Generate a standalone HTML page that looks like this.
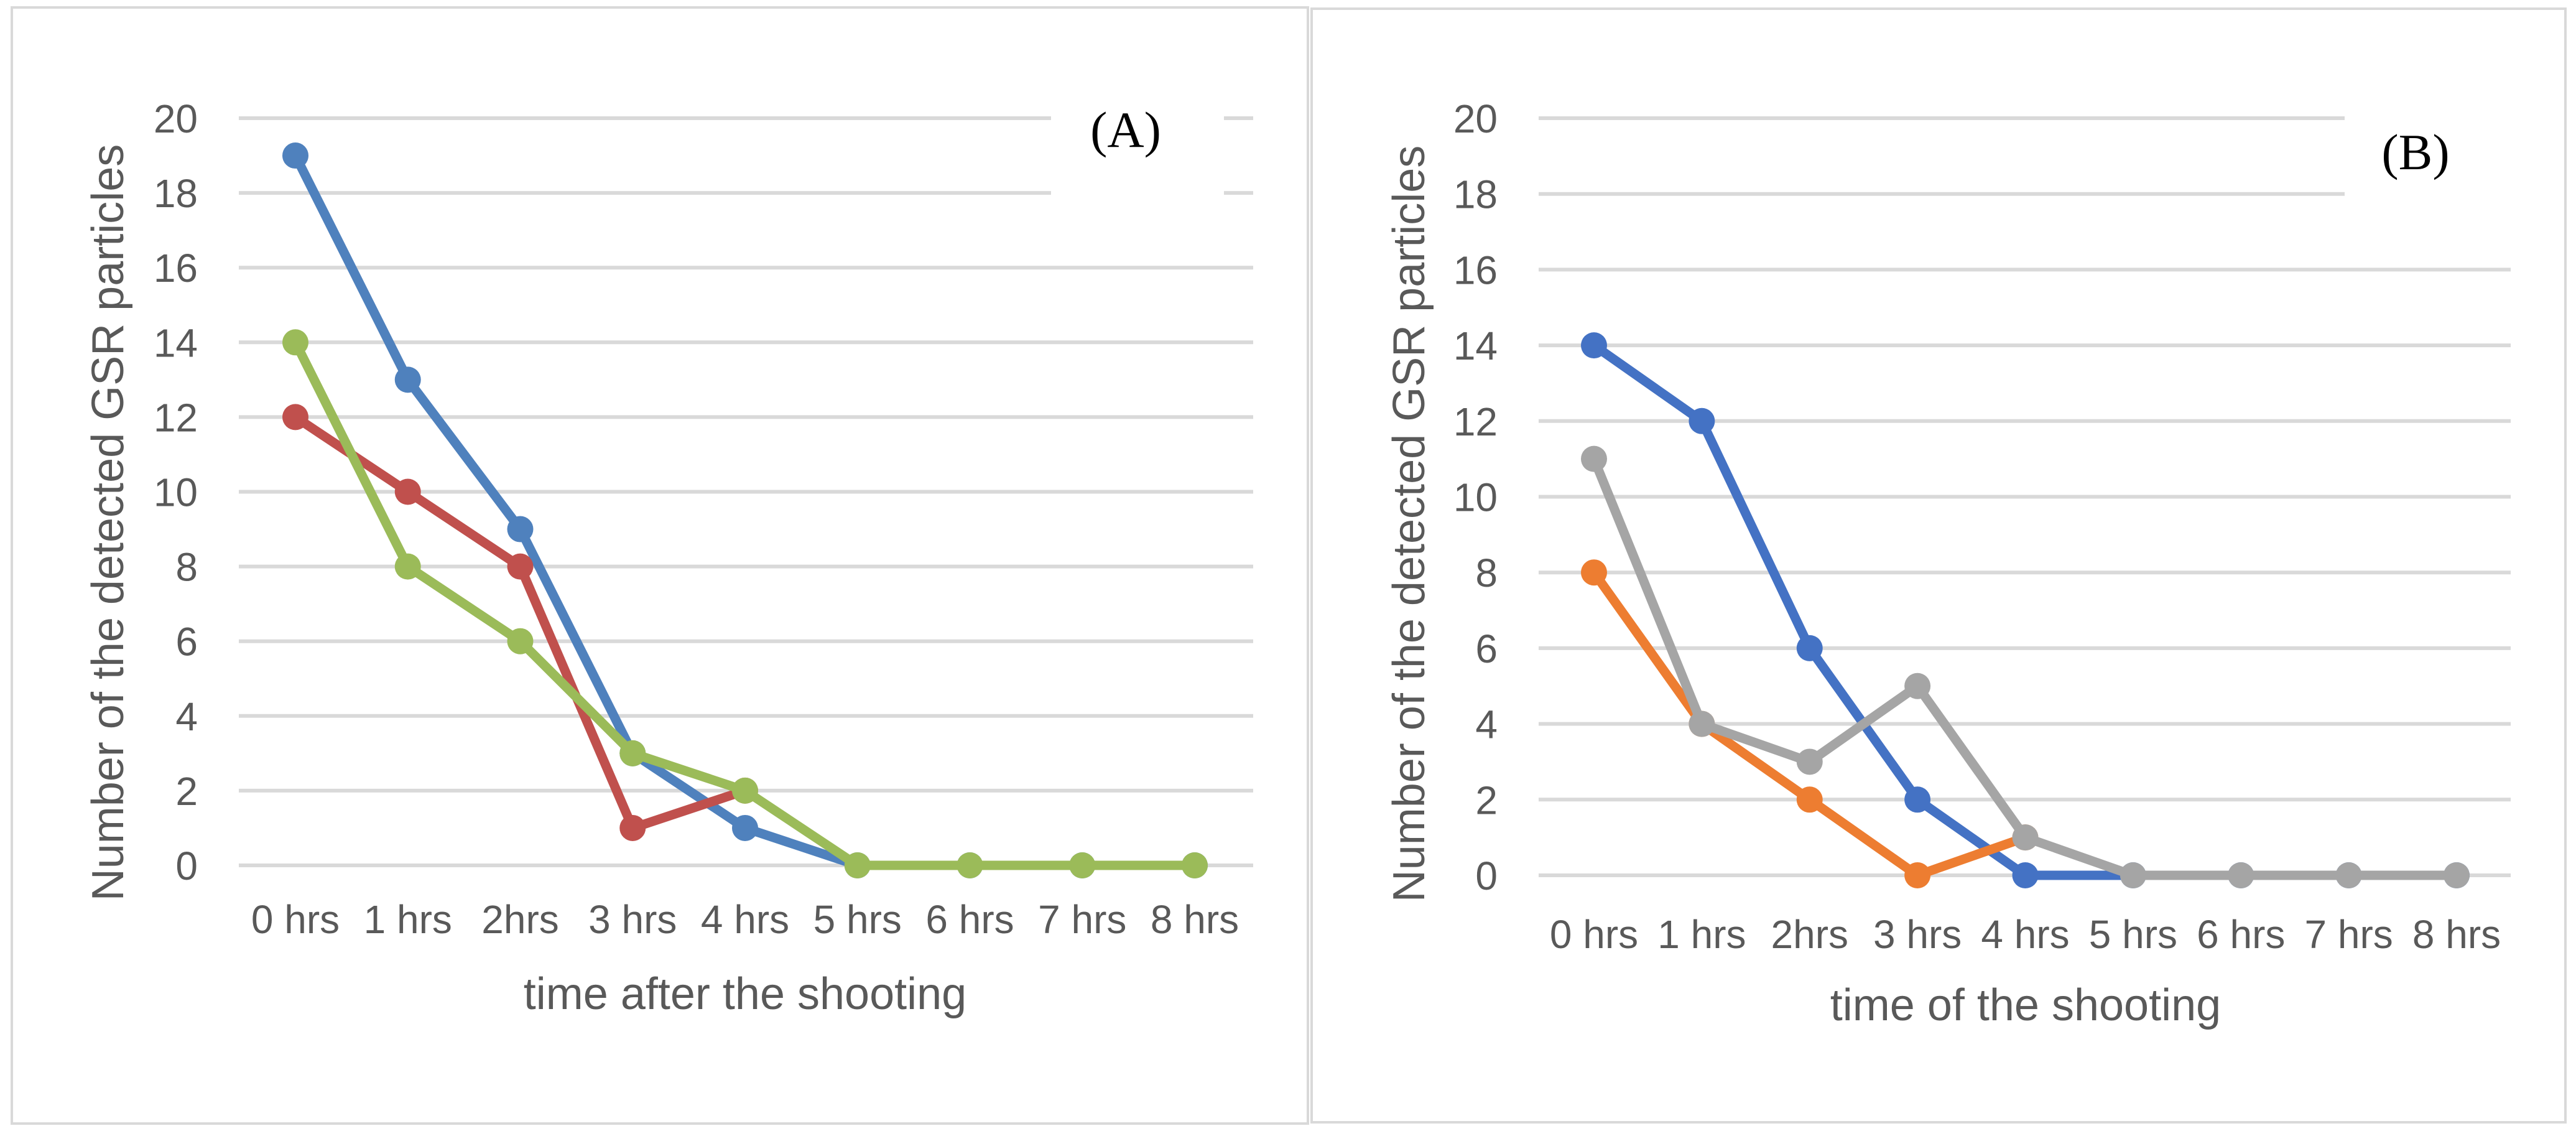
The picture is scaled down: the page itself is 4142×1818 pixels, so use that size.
<!DOCTYPE html>
<html><head><meta charset="utf-8">
<style>
html,body{margin:0;padding:0;background:#fff;}
svg{display:block;}
text{font-family:"Liberation Sans",sans-serif;fill:#595959;}
</style></head>
<body>
<svg id="fig" width="4142" height="1818" viewBox="0 0 4142 1818" xmlns="http://www.w3.org/2000/svg">
  <rect x="0" y="0" width="4142" height="1818" fill="#fff"/>
  <rect x="19" y="12" width="2084" height="1794" fill="none" stroke="#d9d9d9" stroke-width="4"/>
  <rect x="2109" y="14" width="2016" height="1790" fill="none" stroke="#d9d9d9" stroke-width="4"/>
  <g id="pa"></g>
  <g id="pb"></g>
</svg>
<script>
const categories = ["0 hrs","1 hrs","2hrs","3 hrs","4 hrs","5 hrs","6 hrs","7 hrs","8 hrs"];
const yTicks = [0,2,4,6,8,10,12,14,16,18,20];
const aBlue = [19,13,9,3,1,0,0,0,0];
const aRed = [12,10,8,1,2];
const aGreen = [14,8,6,3,2,0,0,0,0];
const bBlue = [14,12,6,2,0,0,0,0,0];
const bOrange = [8,4,2,0,1];
const bGray = [11,4,3,5,1,0,0,0,0];

const NS = "http://www.w3.org/2000/svg";
function mk(tag, attrs, parent){
  const e = document.createElementNS(NS, tag);
  for (const k in attrs) e.setAttribute(k, attrs[k]);
  parent.appendChild(e);
  return e;
}

function drawPanel(g, cfg, seriesList){
  const yScale = v => cfg.y0 + (cfg.y20 - cfg.y0) * v / 20;
  const xScale = i => cfg.x0 + (cfg.x8 - cfg.x0) * i / 8;
  // gridlines
  yTicks.forEach(t => {
    const y = yScale(t);
    if (t >= 18) {
      const l1 = mk('line', {x1:cfg.gx0, x2:cfg.gapStart, y1:y, y2:y, stroke:'#d9d9d9', 'stroke-width':6}, g);
      
      
      if (cfg.gapEnd) {
        const l2 = mk('line', {x1:cfg.gapEnd, x2:cfg.gx1, y1:y, y2:y, stroke:'#d9d9d9', 'stroke-width':6}, g);
        
        
      }
    } else {
      const l = mk('line', {x1:cfg.gx0, x2:cfg.gx1, y1:y, y2:y, stroke:'#d9d9d9', 'stroke-width':6}, g);
      
      
    }
    const tx = mk('text', {x:cfg.tickX, y:y + 23, 'text-anchor':'end', 'font-size':64}, g);
    tx.textContent = t;
    
    
  });
  categories.forEach((c, i) => {
    const tx = mk('text', {x:xScale(i), y:cfg.xLabY, 'text-anchor':'middle', 'font-size':64}, g);
    tx.textContent = c;
    
    
  });
  seriesList.forEach(s => {
    const sg = mk('g', {}, g);
    
    
    const pts = s.data.map((v, i) => xScale(i) + ',' + yScale(v)).join(' ');
    const pl = mk('polyline', {points:pts, fill:'none', stroke:s.color, 'stroke-width':15, 'stroke-linejoin':'round', 'stroke-linecap':'round'}, sg);
    
    
    s.data.forEach((v, i) => {
      const c = mk('circle', {cx:xScale(i), cy:yScale(v), r:21, fill:s.color}, sg);
      
      
    });
  });
  const lab = mk('text', {x:cfg.labX, y:cfg.labY, 'text-anchor':'middle', 'font-size':82, style:'font-family:"Liberation Serif",serif;fill:#000'}, g);
  lab.textContent = cfg.label;
  
  
  const xt = mk('text', {x:cfg.xTitleX, y:cfg.xTitleY, 'text-anchor':'middle', 'font-size':72}, g);
  xt.textContent = cfg.xTitle;
  
  
  const yt = mk('text', {x:0, y:0, 'text-anchor':'middle', 'font-size':72, transform:'translate(' + cfg.yTitleX + ',' + cfg.yTitleY + ') rotate(-90)'}, g);
  yt.textContent = 'Number of the detected GSR particles';
  
  
}

drawPanel(document.getElementById('pa'), {
  y0:1391, y20:190, x0:475, x8:1921, gx0:384, gx1:2015, gapStart:1690, gapEnd:1968,
  tickX:318, xLabY:1500, label:'(A)', labX:1810, labY:236,
  xTitle:'time after the shooting', xTitleX:1198, xTitleY:1622, yTitleX:198, yTitleY:840
}, [
  {name:'series-a-blue', color:'#4f81bd', data:aBlue},
  {name:'series-a-red', color:'#c0504d', data:aRed},
  {name:'series-a-green', color:'#9bbb59', data:aGreen}
]);

drawPanel(document.getElementById('pb'), {
  y0:1407, y20:190, x0:2563, x8:3950, gx0:2474, gx1:4037, gapStart:3770, gapEnd:null,
  tickX:2408, xLabY:1524, label:'(B)', labX:3884, labY:272,
  xTitle:'time of the shooting', xTitleX:3257, xTitleY:1640, yTitleX:2290, yTitleY:842
}, [
  {name:'series-b-blue', color:'#4472c4', data:bBlue},
  {name:'series-b-orange', color:'#ed7d31', data:bOrange},
  {name:'series-b-gray', color:'#a5a5a5', data:bGray}
]);
</script>
</body></html>
